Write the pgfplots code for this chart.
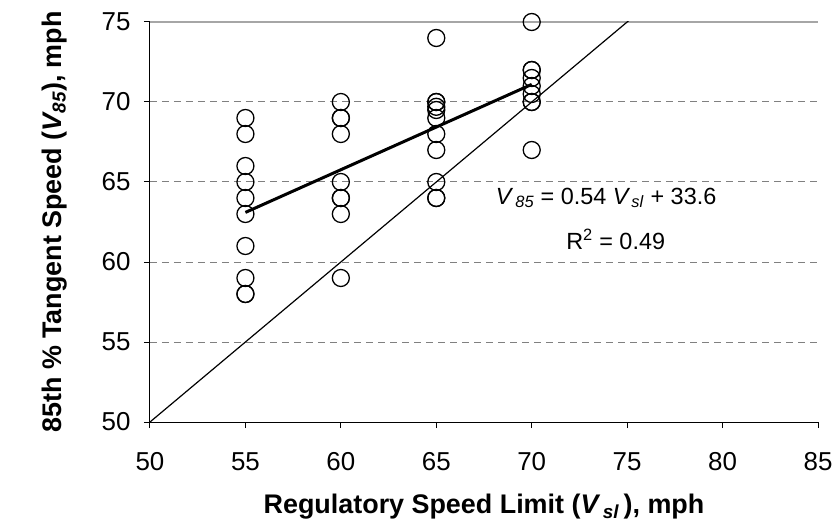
\documentclass[border=0pt]{standalone}
\usepackage{fontspec}
\setmainfont{Liberation Sans}
\usepackage{pgfplots}
\pgfplotsset{compat=1.18}
\usetikzlibrary{calc}

\newcommand\bigfont{\fontsize{27}{32}\selectfont}
\newcommand\tickfont{\fontsize{26}{31}\selectfont}
\newcommand\notefont{\fontsize{23.5}{28}\selectfont}

\begin{document}
\begin{tikzpicture}
\begin{axis}[
    scale only axis,
    width=668bp, height=400bp,
    xmin=50, xmax=85, ymin=50, ymax=75,
    xtick={50,55,...,85}, ytick={50,55,...,75},
    axis lines=left,
    axis line style={-, black, line width=1bp},
    tick align=outside,
    major tick length=6bp,
    tick style={black, line width=1bp},
    ymajorgrids,
    grid style={gray, line width=1bp, dash pattern=on 7bp off 5bp},
    tick label style={font=\tickfont},
    label style={font=\bigfont},
    /pgf/number format/assume math mode=true,
    xticklabel style={yshift=-21bp},
    yticklabel style={xshift=-10bp},
    xlabel={\bfseries Regulatory Speed Limit (\textit{V\,\textsubscript{sl}}\,), mph},
    ylabel={\bfseries 85th \% Tangent Speed (\textit{V\textsubscript{85}}), mph},
    xlabel style={yshift=-16bp},
    ylabel style={yshift=28bp},
    clip=true,
]
\coordinate (pa) at (rel axis cs:0,0);
\coordinate (pb) at (rel axis cs:1,1);
\draw[gray!70, line width=1.2bp] (rel axis cs:0,1) -- (rel axis cs:1,1);

% y = x reference line
\addplot[black, line width=1.2bp] coordinates {(50,50) (80,80)};

% observed V85 at each posted limit
\addplot[only marks, mark=o, mark size=8.5bp, mark options={line width=1.3bp, black}]
coordinates {
(55,69) (55,68) (55,66) (55,65) (55,64) (55,63) (55,61) (55,59) (55,58) (55,58)
(60,70) (60,69) (60,69) (60,68) (60,65) (60,64) (60,64) (60,63) (60,59)
(65,74) (65,70) (65,70) (65,69.7) (65,69.5) (65,69) (65,68) (65,67) (65,65) (65,64) (65,64)
(70,75) (70,72) (70,72) (70,71.5) (70,71) (70,70.5) (70,70) (70,70) (70,67)
};

% regression fit
\addplot[black, line width=3bp] coordinates {(55,63.1) (70,71.1)};

\node[anchor=center, font=\notefont] at (axis cs:73.9,64.0)
  {\textit{V}\kern2bp\textsubscript{\textit{85}} = 0.54 \textit{V}\kern1bp\textsubscript{\textit{sl}} + 33.6};
\node[anchor=center, font=\notefont] at (axis cs:74.4,61.4) {R\textsuperscript{2} = 0.49};
\end{axis}
\pgfresetboundingbox
\path ($(pa)+(-150bp,-103bp)$) rectangle ($(pb)+(16bp,22bp)$);
\end{tikzpicture}
\end{document}
